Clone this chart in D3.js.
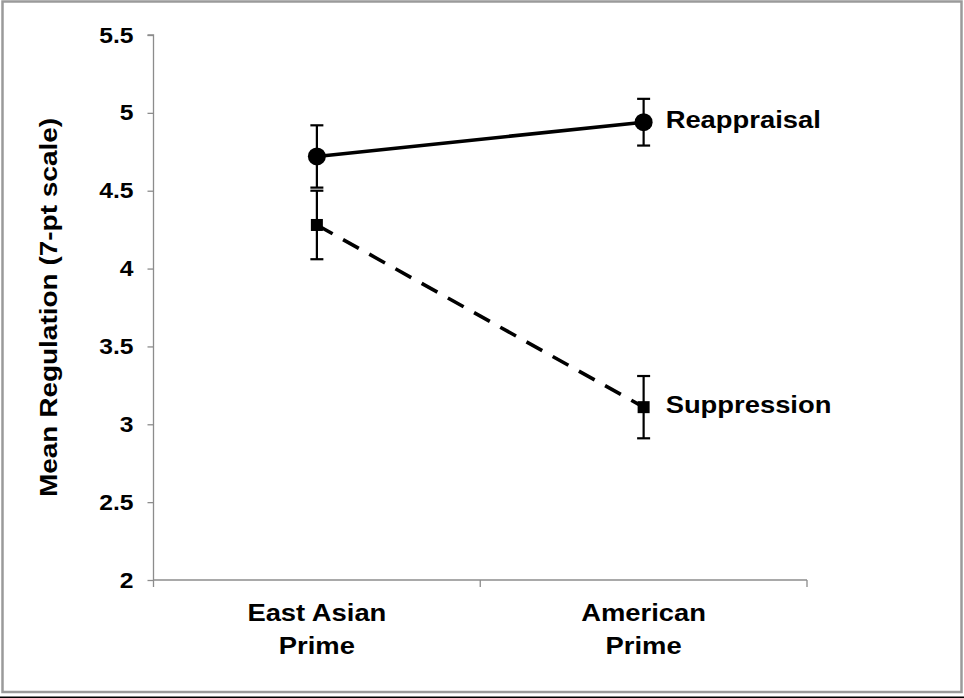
<!DOCTYPE html>
<html>
<head>
<meta charset="utf-8">
<script src="https://cdn.jsdelivr.net/npm/d3@7"></script>
<style>
  html, body { margin: 0; padding: 0; background: #fff; }
  svg { display: block; }
  text { font-family: "Liberation Sans", Arial, sans-serif; font-weight: bold; fill: #000; }
</style>
</head>
<body>
<svg id="chart" width="964" height="698"></svg>
<script>
// Prime conditions on the x axis (each label split over two lines)
const categories = ["East Asian Prime", "American Prime"];
const categoryLines = [["East Asian", "Prime"], ["American", "Prime"]];

// Mean regulation per strategy, with error-bar half-widths
const seriesNames = ["Reappraisal", "Suppression"];
const reappraisalMeans = [4.72, 4.94];
const reappraisalErrors = [0.20, 0.15];
const suppressionMeans = [4.28, 3.11];
const suppressionErrors = [0.22, 0.20];

const yTickValues = [2, 2.5, 3, 3.5, 4, 4.5, 5, 5.5];
const yTickLabels = ["2", "2.5", "3", "3.5", "4", "4.5", "5", "5.5"];
const yTitle = "Mean Regulation (7-pt scale)";

// Type is drawn slightly widened
function widen(sel, factor) {
  sel.each(function() {
    const w = this.getComputedTextLength();
    d3.select(this).attr("textLength", w * factor).attr("lengthAdjust", "spacingAndGlyphs");
  });
}

const svg = d3.select("#chart");

// Frame around the figure
svg.append("rect")
  .attr("x", 2.5).attr("y", 1.5).attr("width", 959).attr("height", 690.5)
  .attr("fill", "none").attr("stroke", "#9a9a9a").attr("stroke-width", 2.5);
svg.append("line")
  .attr("x1", 0).attr("x2", 964).attr("y1", 697.2).attr("y2", 697.2)
  .attr("stroke", "#000").attr("stroke-width", 1.6);

const plot = { left: 153.5, right: 807, top: 35, bottom: 580 };

const x = d3.scaleBand().domain(categories).range([plot.left, plot.right]).padding(0);
const y = d3.scaleLinear().domain([2, 5.5]).range([plot.bottom, plot.top]);
const cx = c => x(c) + x.bandwidth() / 2;

// Y axis
const yAxis = d3.axisLeft(y)
  .tickValues(yTickValues)
  .tickFormat((d, i) => yTickLabels[i])
  .tickSize(6)
  .tickPadding(14);
const gy = svg.append("g").attr("transform", `translate(${plot.left},0)`).call(yAxis);
gy.select(".domain").attr("stroke", "#8c8c8c").attr("stroke-width", 1.3)
  .attr("d", `M-6,${plot.top}H0V${plot.bottom}`);
gy.selectAll(".tick line").attr("stroke", "#8c8c8c").attr("stroke-width", 1.3);
gy.selectAll(".tick text")
  .style("font-size", "22px").style("font-family", "'Liberation Sans', Arial, sans-serif")
  .style("font-weight", "bold").attr("fill", "#000")
  .call(widen, 1.12);

// X axis: baseline with ticks at band boundaries
const xBounds = [plot.left].concat(categories.map(c => x(c) + x.bandwidth()));
const gx = svg.append("g");
gx.append("line")
  .attr("x1", plot.left).attr("x2", plot.right)
  .attr("y1", plot.bottom).attr("y2", plot.bottom)
  .attr("stroke", "#8c8c8c").attr("stroke-width", 1.3);
gx.selectAll("line.xt").data(xBounds).join("line").attr("class", "xt")
  .attr("x1", d => d).attr("x2", d => d)
  .attr("y1", plot.bottom).attr("y2", plot.bottom + 7)
  .attr("stroke", "#8c8c8c").attr("stroke-width", 1.3);

// Category labels, one text element per line
categories.forEach((c, i) => {
  categoryLines[i].forEach((line, k) => {
    gx.append("text")
      .attr("x", cx(c)).attr("y", 621 + k * 33)
      .attr("text-anchor", "middle")
      .style("font-size", "23px")
      .text(line)
      .call(widen, 1.19);
  });
});

// Y axis title
svg.append("text")
  .attr("transform", `translate(57,${(plot.top + plot.bottom) / 2}) rotate(-90)`)
  .attr("text-anchor", "middle")
  .style("font-size", "23.5px")
  .text(yTitle)
  .call(widen, 1.19);

const series = [
  { name: seriesNames[0], means: reappraisalMeans, errors: reappraisalErrors, dash: null, marker: "circle" },
  { name: seriesNames[1], means: suppressionMeans, errors: suppressionErrors, dash: "18,12", marker: "square" }
];

series.forEach(s => {
  const pts = categories.map((c, i) => ({ c, m: s.means[i], e: s.errors[i] }));
  const g = svg.append("g");

  // Error bars
  const capW = 6.5;
  pts.forEach(p => {
    const px = cx(p.c);
    g.append("line").attr("x1", px).attr("x2", px)
      .attr("y1", y(p.m + p.e)).attr("y2", y(p.m - p.e))
      .attr("stroke", "#000").attr("stroke-width", 2.2);
    [p.m + p.e, p.m - p.e].forEach(v => {
      g.append("line").attr("x1", px - capW).attr("x2", px + capW)
        .attr("y1", y(v)).attr("y2", y(v))
        .attr("stroke", "#000").attr("stroke-width", 2.2);
    });
  });

  // Connecting line
  g.append("path")
    .datum(pts)
    .attr("d", d3.line().x(p => cx(p.c)).y(p => y(p.m)))
    .attr("fill", "none").attr("stroke", "#000").attr("stroke-width", 3.6)
    .attr("stroke-dasharray", s.dash);

  // Markers
  if (s.marker === "circle") {
    g.selectAll("circle").data(pts).join("circle")
      .attr("cx", p => cx(p.c)).attr("cy", p => y(p.m)).attr("r", 9).attr("fill", "#000");
  } else {
    g.selectAll("rect").data(pts).join("rect")
      .attr("x", p => cx(p.c) - 6).attr("y", p => y(p.m) - 6)
      .attr("width", 12).attr("height", 12).attr("fill", "#000");
  }

  // Series label beside the last point
  const last = pts[pts.length - 1];
  g.append("text")
    .attr("x", cx(last.c) + 22).attr("y", y(last.m) + 6)
    .style("font-size", "23px")
    .text(s.name)
    .call(widen, 1.19);
});
</script>
</body>
</html>
